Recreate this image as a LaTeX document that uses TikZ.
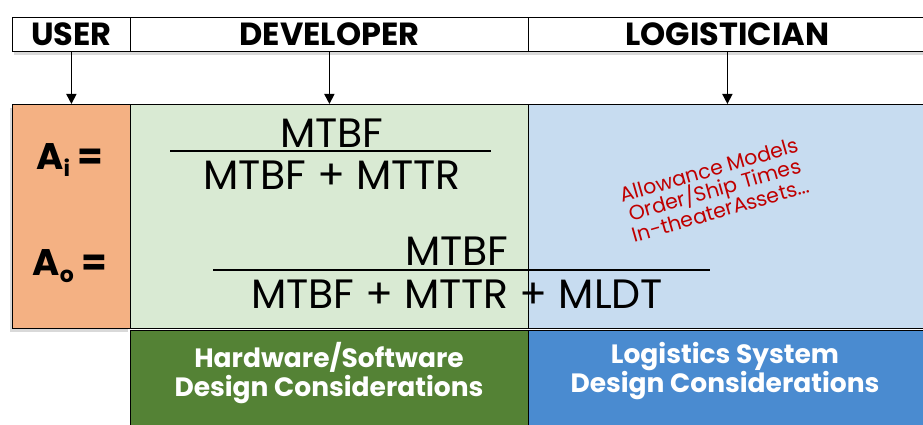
\documentclass[tikz,border=0pt]{standalone}
\usepackage{fontspec}
\setmainfont{Poppins}
\usetikzlibrary{shadows,arrows.meta}

\definecolor{userfill}{HTML}{F4B183}
\definecolor{devfill}{HTML}{D9EAD3}
\definecolor{logfill}{HTML}{C7DCF0}
\definecolor{devdark}{HTML}{548235}
\definecolor{logdark}{HTML}{4A8BD0}
\definecolor{notered}{HTML}{C00000}

\tikzset{
  cell/.style={draw=black, line width=0.8pt, inner sep=0pt, anchor=north west},
  hdr/.style={cell, fill=white,
    drop shadow={shadow xshift=2pt, shadow yshift=-4pt, opacity=0.3}},
  hdrtext/.style={font=\bfseries\fontsize{32}{32}\selectfont},
  band/.style={cell, text=white, align=center,
    font=\bfseries\fontsize{26.5}{29}\selectfont},
  frac/.style={inner sep=0pt, font=\fontsize{41}{41}\selectfont},
  avail/.style={inner sep=0pt, font=\bfseries\fontsize{37}{37}\selectfont},
  bar/.style={line width=1.6pt},
  role/.style={line width=1.6pt, -{Triangle[length=10pt,width=10pt]}},
}

\begin{document}
\begin{tikzpicture}[x=1pt,y=-1pt]
\useasboundingbox (0,0) rectangle (923,425);

% header row with the three roles
\node[hdr, minimum width=118pt, minimum height=34pt] (user) at (12,17) {};
\node[hdr, minimum width=398pt, minimum height=34pt] (dev) at (130,17) {};
\node[hdr, minimum width=398pt, minimum height=34pt] (log) at (528,17) {};
\node[hdrtext] (usertxt) at (user.center) {USER};
\node[hdrtext] (devtxt) at (dev.center) {DEVELOPER};
\node[hdrtext] (logtxt) at (log.center) {LOGISTICIAN};

% main panels
\node[cell, fill=userfill, minimum width=118pt, minimum height=224pt,
  drop shadow={shadow xshift=-2pt, shadow yshift=-4pt, opacity=0.3}] (upanel) at (12,104) {};
\node[cell, fill=devfill, minimum width=398pt, minimum height=224pt] (dpanel) at (130,104) {};
\node[cell, fill=logfill, minimum width=398pt, minimum height=224pt] (lpanel) at (528,104) {};

% arrows from each role down to its panel
\draw[role] (user.south) -- (upanel.north);
\draw[role] (dev.south) -- (dpanel.north);
\draw[role] (log.south) -- (lpanel.north);

% bottom bands
\node[band, fill=devdark, minimum width=398pt, minimum height=97pt] (hw) at (130,330) {};
\node[band, fill=logdark, minimum width=398pt, minimum height=97pt] (ls) at (528,330) {};
\node[band, draw=none, anchor=center] (hwtxt) at (329,373) {Hardware/Software\\Design Considerations};
\node[band, draw=none, anchor=center] (lstxt) at (725,371) {Logistics System\\Design Considerations};

% availability labels
\node[avail] (ai) at (70,160) {A\raisebox{-0.35ex}{\fontsize{22}{22}\selectfont i} =};
\node[avail] (ao) at (70,266) {A\raisebox{-0.35ex}{\fontsize{22}{22}\selectfont o} =};

% inherent availability
\node[frac] (n1) at (332,133) {MTBF};
\draw[bar] (170,151) -- (491,151);
\node[frac] (d1) at (332,175) {MTBF + MTTR};

% operational availability
\node[frac] (n2) at (457,251) {MTBF};
\draw[bar] (213,270) -- (710,270);
\node[frac] (d2) at (457,294) {MTBF + MTTR + MLDT};

% logistics notes
\node[text=notered, rotate=16, align=center, inner sep=0pt,
  font=\fontsize{20.5}{19}\selectfont] (notes) at (715,190)
  {Allowance Models\\Order/Ship Times\\In-theaterAssets...};
\end{tikzpicture}
\end{document}
